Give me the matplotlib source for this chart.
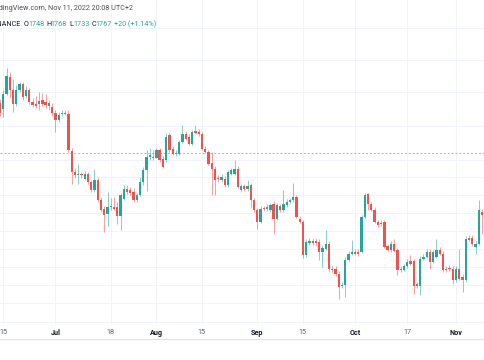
import matplotlib
matplotlib.use("Agg")
import matplotlib.pyplot as plt
import numpy as np
import pandas as pd
from matplotlib.lines import Line2D

# daily candles, Jun 14 .. Nov 11 2022
dates = pd.date_range("2022-06-14", "2022-11-11", freq="D")

opens = [1868, 1856, 1886, 1920, 1894, 1866, 1893, 1905, 1881, 1893, 1870, 1866, 1865, 1873, 1870, 1861,
         1860, 1848, 1833, 1845, 1845, 1846, 1772, 1730, 1723, 1725, 1716, 1725, 1710, 1693, 1713, 1674,
         1656, 1645, 1659, 1660, 1660, 1641, 1676, 1696, 1693, 1690, 1673, 1683, 1710, 1733, 1759, 1759,
         1758, 1773, 1756, 1753, 1803, 1776, 1766, 1766, 1790, 1806, 1800, 1786, 1812, 1810, 1805, 1776,
         1770, 1748, 1736, 1716, 1713, 1716, 1703, 1726, 1726, 1736, 1693, 1701, 1695, 1703, 1673, 1653,
         1630, 1656, 1655, 1653, 1666, 1636, 1661, 1653, 1663, 1670, 1673, 1680, 1636, 1630, 1563, 1588,
         1591, 1591, 1590, 1570, 1576, 1586, 1536, 1536, 1526, 1502, 1503, 1554, 1566, 1570, 1569, 1570,
         1640, 1685, 1665, 1654, 1630, 1627, 1630, 1581, 1573, 1586, 1573, 1536, 1534, 1541, 1551, 1551,
         1505, 1501, 1556, 1560, 1570, 1550, 1560, 1574, 1566, 1536, 1536, 1536, 1513, 1536, 1520, 1513,
         1598, 1598, 1580, 1586, 1650, 1643, 1748]
highs = [1875, 1893, 1938, 1930, 1916, 1903, 1909, 1909, 1901, 1897, 1877, 1881, 1889, 1887, 1886, 1873,
         1867, 1853, 1849, 1853, 1854, 1853, 1777, 1737, 1745, 1729, 1731, 1729, 1713, 1736, 1717, 1679,
         1661, 1689, 1677, 1679, 1669, 1687, 1703, 1703, 1699, 1697, 1687, 1720, 1739, 1773, 1777, 1773,
         1777, 1777, 1761, 1807, 1807, 1781, 1773, 1793, 1823, 1811, 1805, 1813, 1823, 1815, 1809, 1781,
         1773, 1770, 1741, 1723, 1725, 1721, 1733, 1737, 1753, 1741, 1705, 1705, 1713, 1707, 1677, 1657,
         1661, 1661, 1665, 1667, 1671, 1667, 1665, 1693, 1675, 1677, 1708, 1683, 1641, 1633, 1595, 1597,
         1597, 1597, 1595, 1583, 1613, 1591, 1541, 1541, 1531, 1509, 1559, 1571, 1593, 1575, 1575, 1643,
         1687, 1687, 1669, 1659, 1633, 1633, 1633, 1585, 1591, 1596, 1577, 1541, 1545, 1555, 1563, 1555,
         1509, 1561, 1565, 1575, 1575, 1573, 1596, 1579, 1571, 1541, 1543, 1541, 1541, 1576, 1525, 1601,
         1603, 1603, 1591, 1673, 1655, 1752, 1768]
lows = [1841, 1840, 1883, 1880, 1850, 1861, 1889, 1874, 1877, 1865, 1859, 1857, 1853, 1861, 1857, 1853,
        1841, 1810, 1829, 1841, 1843, 1769, 1705, 1717, 1706, 1717, 1713, 1705, 1689, 1689, 1669, 1649,
        1610, 1621, 1653, 1653, 1626, 1613, 1673, 1685, 1683, 1669, 1669, 1681, 1703, 1691, 1753, 1753,
        1757, 1749, 1737, 1749, 1769, 1763, 1761, 1763, 1787, 1793, 1783, 1783, 1805, 1801, 1773, 1767,
        1743, 1683, 1683, 1709, 1709, 1699, 1699, 1723, 1723, 1697, 1689, 1691, 1691, 1660, 1649, 1616,
        1627, 1651, 1651, 1649, 1606, 1633, 1649, 1649, 1659, 1667, 1669, 1637, 1627, 1557, 1559, 1583,
        1583, 1581, 1553, 1540, 1573, 1529, 1529, 1521, 1476, 1497, 1480, 1551, 1563, 1563, 1561, 1567,
        1637, 1653, 1651, 1627, 1619, 1621, 1577, 1571, 1569, 1569, 1523, 1529, 1531, 1537, 1543, 1486,
        1497, 1483, 1553, 1557, 1536, 1547, 1557, 1563, 1529, 1529, 1531, 1506, 1509, 1513, 1490, 1509,
        1591, 1581, 1566, 1583, 1606, 1637, 1733]
closes = [1848, 1886, 1921, 1893, 1865, 1893, 1905, 1880, 1894, 1870, 1863, 1862, 1872, 1866, 1863, 1867,
          1848, 1833, 1843, 1846, 1847, 1773, 1730, 1723, 1725, 1723, 1726, 1710, 1693, 1714, 1674, 1653,
          1643, 1659, 1660, 1656, 1641, 1683, 1696, 1690, 1688, 1673, 1683, 1710, 1733, 1760, 1763, 1758,
          1773, 1753, 1740, 1800, 1773, 1766, 1767, 1790, 1806, 1796, 1786, 1810, 1808, 1805, 1776, 1770,
          1746, 1736, 1713, 1715, 1720, 1703, 1730, 1733, 1736, 1700, 1701, 1695, 1701, 1673, 1653, 1630,
          1656, 1655, 1660, 1663, 1636, 1663, 1653, 1666, 1670, 1673, 1680, 1640, 1630, 1563, 1590, 1592,
          1588, 1587, 1570, 1578, 1586, 1535, 1533, 1526, 1500, 1504, 1554, 1566, 1570, 1566, 1566, 1640,
          1683, 1665, 1654, 1630, 1623, 1625, 1580, 1574, 1586, 1572, 1534, 1533, 1541, 1550, 1546, 1501,
          1501, 1556, 1560, 1570, 1550, 1569, 1574, 1566, 1533, 1533, 1535, 1513, 1536, 1516, 1513, 1596,
          1594, 1585, 1586, 1653, 1643, 1748, 1767]

tick_dates = ["2022-06-15", "2022-07-01", "2022-07-18", "2022-08-01", "2022-08-15",
              "2022-09-01", "2022-09-15", "2022-10-01", "2022-10-17", "2022-11-01"]
tick_labels = ["15", "Jul", "18", "Aug", "15", "Sep", "15", "Oct", "17", "Nov"]
grid_levels = [2017, 1953, 1889, 1821, 1753, 1719, 1683, 1647, 1611, 1575, 1539, 1503, 1467, 1429]
last_close = 1767

up = "#26a69a"
down = "#ef5350"
W, H = 485, 360

fig = plt.figure(figsize=(W / 100, H / 100), dpi=100)
ax = fig.add_axes([0, 36 / H, 1, 324 / H])

o = np.array(opens, float)
c = np.array(closes, float)
x = np.arange(len(dates))
cols = np.where(c >= o, up, down)

ax.vlines(x, lows, highs, colors=cols, linewidth=0.7, alpha=0.55, zorder=3)
body = np.maximum(np.abs(c - o), 1.5)
ax.bar(x, body, bottom=np.minimum(o, c), width=0.7, color=cols, linewidth=0, zorder=4)

ax.axhline(last_close, color=up, linewidth=0.7, alpha=0.6, linestyle=(0, (2, 2)), zorder=2)

ax.set_xlim(-0.013, 148.9)
ax.set_ylim(1425, 2073)

tick_pos = [dates.get_loc(pd.Timestamp(t)) for t in tick_dates]
ax.set_xticks(tick_pos)
ax.set_xticklabels(tick_labels, fontfamily="Roboto", fontsize=5.2)
for lab in ax.get_xticklabels():
    if lab.get_text().isdigit():
        lab.set_color("#5d606b")
    else:
        lab.set_color("#131722")
        lab.set_fontweight("bold")
ax.set_yticks(grid_levels)
ax.set_yticklabels([])
ax.tick_params(axis="both", length=0, pad=3.5)
ax.grid(True, color="#f0f3fa", linewidth=0.7, zorder=0)
for s in ax.spines.values():
    s.set_visible(False)

fig.add_artist(Line2D([0, 1], [1 - 339 / H, 1 - 339 / H], color="#e0e3eb", linewidth=0.8))

# header
fig.text(-12 / W, 1 - 9 / H, "TradingView.com, Nov 11, 2022 20:08 UTC+2",
         fontfamily="Roboto", fontsize=5.2, color="#4a4d57", va="center", ha="left")
header = [(-10, "BINANCE", "#131722"), (24, "O", "#131722"), (28, "1748", up),
          (46.5, "H", "#131722"), (50.5, "1768", up), (69.5, "L", "#131722"), (73, "1733", up),
          (91.5, "C", "#131722"), (95.5, "1767", up), (114, "+20 (+1.14%)", up)]
for px, txt, col in header:
    fig.text(px / W, 1 - 24 / H, txt, fontfamily="Roboto", fontsize=5.2, color=col,
             va="center", ha="left")

fig.savefig("out.png", dpi=100, facecolor="white")
